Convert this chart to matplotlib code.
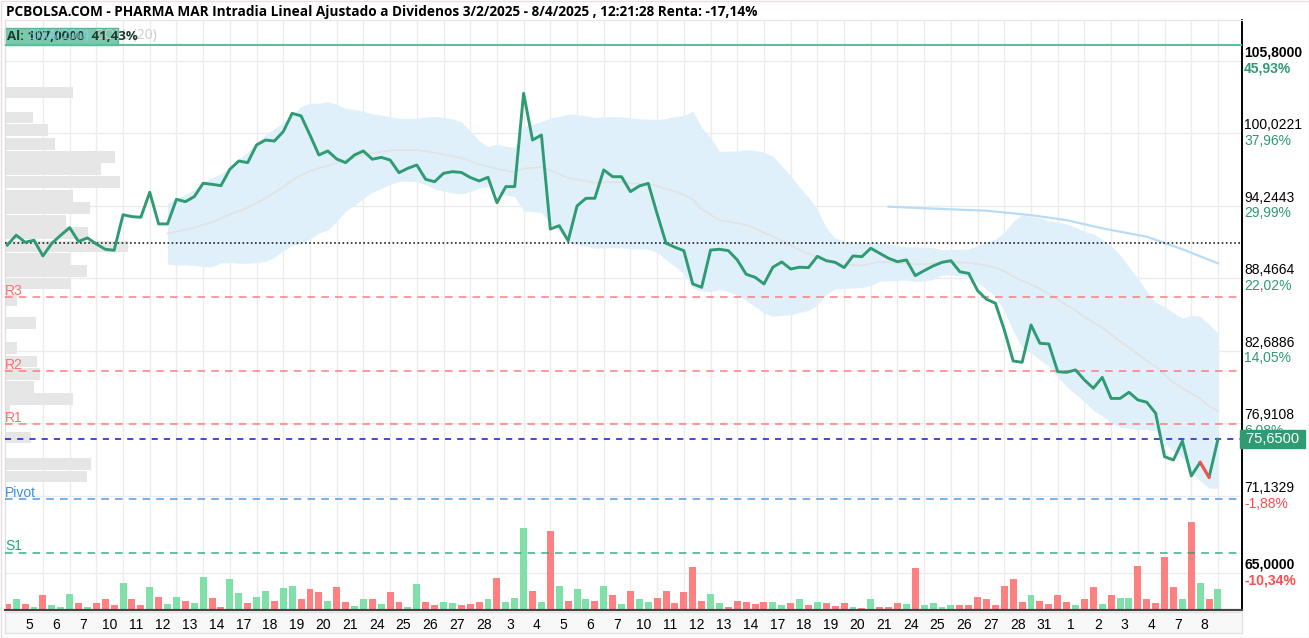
import numpy as np
import pandas as pd
import matplotlib
matplotlib.use("Agg")
import matplotlib.pyplot as plt
from matplotlib.patches import Rectangle

# Precio intradia de PHARMA MAR, tres tomas por sesion (4/2/2025 - 8/4/2025)
precio = [
    91.12, 91.90, 91.34, 91.50, 90.25, 91.25, 91.90, 92.50, 91.40, 91.68,
    91.20, 90.78, 90.70, 93.53, 93.38, 93.33, 95.32, 92.80, 92.80, 94.76,
    94.57, 94.97, 96.04, 95.95, 95.85, 97.15, 97.81, 97.68, 99.09, 99.48,
    99.40, 100.15, 101.61, 101.40, 99.88, 98.29, 98.61, 97.97, 97.68, 98.29,
    98.61, 97.95, 98.10, 97.89, 96.88, 97.23, 97.49, 96.35, 96.16, 96.83,
    96.96, 96.90, 96.50, 96.22, 96.51, 94.49, 95.77, 95.77, 103.20, 99.48,
    99.88, 92.39, 92.66, 91.46, 94.23, 94.84, 94.84, 97.10, 96.56, 96.56,
    95.37, 95.82, 96.03, 93.60, 91.26, 90.94, 90.67, 88.02, 87.75, 90.72,
    90.78, 90.67, 89.93, 88.79, 88.55, 88.02, 89.35, 89.77, 89.21, 89.35,
    89.32, 90.22, 89.87, 89.74, 89.32, 90.25, 90.19, 90.86, 90.46, 90.06,
    89.79, 89.93, 88.68, 89.08, 89.45, 89.74, 89.87, 88.99, 88.86, 87.48,
    86.80, 86.48, 84.35, 81.88, 81.78, 84.75, 83.29, 83.24, 81.03, 80.98,
    81.17, 80.37, 79.71, 80.58, 78.90, 78.90, 79.39, 78.78, 78.60, 77.72,
    74.26, 74.00, 75.51, 72.73, 73.81, 72.62, 75.65,
]

# Volumen relativo de cada toma y si fue al alza (g) o a la baja (r)
volumen = [
    5.7, 10.7, 5.7, 3.3, 14.7, 4.7, 3.3, 15.7, 6.7, 3.3,
    6.7, 10.7, 4.7, 27.0, 10.7, 4.7, 23.3, 13.3, 5.7, 13.3,
    9.3, 6.7, 33.3, 12.0, 3.3, 30.7, 16.7, 6.7, 13.3, 19.3,
    9.3, 22.0, 24.3, 10.7, 20.7, 18.3, 9.3, 23.3, 8.0, 4.3,
    10.7, 10.7, 5.7, 18.3, 8.0, 3.3, 25.7, 8.0, 4.7, 8.0,
    6.7, 4.7, 5.7, 8.0, 10.7, 32.0, 8.0, 12.0, 81.7, 19.3,
    8.0, 79.3, 24.3, 9.3, 20.7, 10.7, 9.3, 24.3, 14.7, 5.7,
    19.3, 10.7, 8.0, 12.0, 19.3, 6.7, 18.3, 43.3, 9.3, 15.7,
    6.7, 3.3, 9.3, 8.0, 5.7, 8.0, 8.0, 4.7, 6.7, 10.7,
    4.7, 8.0, 6.7, 4.3, 6.7, 3.3, 2.0, 10.7, 3.3, 3.3,
    6.7, 5.7, 42.0, 4.7, 6.7, 3.3, 4.7, 4.7, 4.7, 13.3,
    10.7, 4.7, 24.3, 30.7, 8.0, 14.7, 9.3, 5.7, 14.7, 8.0,
    4.7, 10.7, 23.3, 5.7, 14.7, 12.0, 12.0, 44.3, 10.7, 6.7,
    53.3, 23.3, 10.7, 88.3, 27.0, 10.7, 20.7,
]
sentido = ("rgrgrgggrg" "rrrgrrgrgg" "rggrrggrgg" "rggrrrgrrg" "grgrrgg"
           "rrggrrrgrg" "ggrgrgrggr" "grgrggrrrr" "rrggrrrrrg" "grgrgrr"
           "rgrgrrrgrg" "gggrrrrrrr" "rgrrrrgrrg" "rggrrrrrgr" "grg")

# Dias de sesion mostrados en el eje
dias = ["5", "6", "7", "10", "11", "12", "13", "14", "17", "18", "19", "20", "21",
        "24", "25", "26", "27", "28", "3", "4", "5", "6", "7", "10", "11", "12",
        "13", "14", "17", "18", "19", "20", "21", "24", "25", "26", "27", "28",
        "31", "1", "2", "3", "4", "7", "8"]

# Perfil de volumen por nivel de precio
perfil_precio = [103.27, 101.28, 100.28, 99.17, 98.13, 97.17, 96.14, 95.02, 94.07,
                 93.03, 92.08, 91.00, 90.00, 89.04, 88.04, 86.74, 84.91, 82.92,
                 81.83, 80.85, 79.81, 78.85, 77.98, 75.79, 73.68, 72.67]
perfil_vol = [68, 28, 43, 50, 110, 96, 115, 68, 85, 61, 83, 123, 65, 82, 66, 12,
              31, 12, 32, 35, 29, 68, 5, 26, 86, 82]

# SMA(200), solo el tramo visible
sma_idx = [99, 106, 110, 115, 119, 123, 128, 132, 136]
sma_val = [94.17, 93.96, 93.85, 93.50, 93.10, 92.45, 91.78, 90.78, 89.66]

# Niveles del eje derecho y su rentabilidad
niveles = [105.8, 100.0221, 94.2443, 88.4664, 82.6886, 76.9108, 71.1329, 65.0]
niveles_txt = ["105,8000", "100,0221", "94,2443", "88,4664", "82,6886",
               "76,9108", "71,1329", "65,0000"]
niveles_pct = ["45,93%", "37,96%", "29,99%", "22,02%", "14,05%", "6,08%",
               "-1,88%", "-10,34%"]

precio_inicio = 91.28
maximo = 107.05
soportes = {"R3": 86.98, "R2": 81.09, "R1": 76.87, "Pivot": 70.90, "S1": 66.60}
ultimo = 75.65
segmentos_rojos = [134]

W, H = 1309, 638
VERDE = "#2e9b72"

fig = plt.figure(figsize=(W / 100, H / 100), dpi=100)
fig.patch.set_facecolor("white")
rect = [5 / W, 1 - 610 / H, 1237 / W, 590 / H]
axv = fig.add_axes(rect)
axp = axv.twinx()
axp.set_zorder(axv.get_zorder() + 1)
axp.patch.set_visible(False)

n = len(precio)
x = np.arange(n)
xmin, xmax = -0.26, 138.7
ymin, ymax = 62.05, 109.04
axv.set_xlim(xmin, xmax)
axv.set_ylim(0, 590)
axp.set_ylim(ymin, ymax)

# rejilla
for k in range(1, 46):
    axv.axvline(1 + 3 * k, color="#ececec", lw=1, zorder=0)
for lv in niveles:
    axv.axhline((lv - ymin) / (ymax - ymin) * 590, color="#ececec", lw=1, zorder=0)

# volumen
colores_vol = ["#7fe0aa" if s == "g" else "#ff8080" for s in sentido]
axv.bar(x, volumen, width=0.78, color=colores_vol, edgecolor="none", zorder=2)

# perfil de volumen
axp.barh(perfil_precio, [v / 8.9 for v in perfil_vol], left=xmin, height=0.92,
         color="#e6e6e6", edgecolor="none", zorder=1)

# bandas de Bollinger (20)
s = pd.Series(precio)
media = s.rolling(20, min_periods=19).mean()
desv = s.rolling(20, min_periods=19).std(ddof=0)
axp.fill_between(x, media + 2 * desv, media - 2 * desv, color="#dff0fb", lw=0, zorder=2)
axp.plot(x, media, color="#e2e2e2", lw=1.2, zorder=3)
axp.plot(sma_idx, sma_val, color="#b8dcf6", lw=1.6, zorder=3)

# lineas horizontales
axp.axhline(maximo, color="#5cbf9c", lw=1.5, zorder=4)
axp.axhline(precio_inicio, color="#222222", lw=1.2, ls=(0, (1, 1.5)), zorder=4)
estilo = {"R3": "#ff7070", "R2": "#ff7070", "R1": "#ff7070",
          "Pivot": "#3d8fe6", "S1": "#25a677"}
for nombre, nivel in soportes.items():
    axp.axhline(nivel, color=estilo[nombre], lw=1.1, ls=(0, (5, 4)), zorder=4, alpha=0.9)
    axp.text(0.0, nivel - 0.05, nombre, transform=axp.get_yaxis_transform(),
             color=estilo[nombre], fontsize=10, fontfamily="Liberation Sans",
             va="bottom", ha="left", zorder=6)
axp.axhline(ultimo, color="#1515c8", lw=1.1, ls=(0, (4, 4)), zorder=4)

# precio
axp.plot(x, precio, color=VERDE, lw=2.1, zorder=5, solid_joinstyle="round")
for i in segmentos_rojos:
    axp.plot(x[i:i + 2], precio[i:i + 2], color="#ff4d4d", lw=2.1, zorder=5)

# etiquetas del eje derecho
tr = axp.get_yaxis_transform()
for lv, t, p in zip(niveles, niveles_txt, niveles_pct):
    extremo = lv in (niveles[0], niveles[-1])
    axp.text(1.0018, lv + 0.08, t, transform=tr, fontsize=10, va="bottom", ha="left",
             fontfamily="Liberation Sans", fontweight="bold" if extremo else "normal",
             color="black", clip_on=False)
    axp.text(1.0018, lv - 0.05, p, transform=tr, fontsize=10, va="top", ha="left",
             fontfamily="Liberation Sans", fontweight="bold" if extremo else "normal",
             color="#ff4d4d" if p.startswith("-") else VERDE, clip_on=False)
axp.text(1.0, ultimo, " 75,6500 ", transform=tr, fontsize=10.5, va="center", ha="left",
         fontfamily="Liberation Sans", color="white", zorder=10, clip_on=False,
         bbox=dict(boxstyle="square,pad=0.12", fc=VERDE, ec=VERDE))

# eje x
axv.set_xticks([2.5 + 3 * d for d in range(len(dias))])
axv.set_xticklabels(dias, fontsize=10, fontfamily="Liberation Sans")
axv.tick_params(axis="x", length=0, pad=6)
axv.set_yticks([])
axp.set_yticks([])
for a in (axv, axp):
    a.spines["top"].set_visible(False)
    a.spines["left"].set_color("#dddddd")
    a.spines["right"].set_color("black")
    a.spines["right"].set_linewidth(1.2)
    a.spines["bottom"].set_color("#444444")
    a.spines["bottom"].set_linewidth(1.5)

# franja inferior y marco
fig.add_artist(Rectangle((5 / W, 1 - 633 / H), 1237 / W, 21 / H, transform=fig.transFigure,
                         fc="#f8f8f8", ec="#e2e2e2", lw=1, zorder=-1))
fig.add_artist(Rectangle((0.5 / W, 0.5 / H), 1 - 1 / W, 1 - 1 / H, transform=fig.transFigure,
                         fill=False, ec="#e8dede", lw=1))
fig.add_artist(plt.Line2D([5 / W, 1242 / W], [1 - 20 / H, 1 - 20 / H], color="#e6e6e6", lw=1))

# titulo
fig.text(6 / W, 1 - 12 / H,
         "PCBOLSA.COM - PHARMA MAR Intradia Lineal Ajustado a Dividenos 3/2/2025 - 8/4/2025 , 12:21:28 Renta: -17,14%",
         fontsize=9.8, fontweight="bold", fontfamily="Open Sans", va="center", ha="left")

# leyenda
fig.text(95 / W, 1 - 36 / H, "BOLL (20)", fontsize=10, color="#cccccc",
         fontfamily="Open Sans", va="center", ha="left")
fig.add_artist(Rectangle((5 / W, 1 - 45 / H), 113 / W, 17 / H, transform=fig.transFigure,
                         fc="#6cc4a4", ec="#4fb08c", lw=1, alpha=0.9))
fig.text(7 / W, 1 - 36.5 / H, "Al: 107,0000  41,43%", fontsize=9.5, color="#1b3b30",
         fontfamily="Open Sans", fontweight="bold", va="center", ha="left")
fig.text(28 / W, 1 - 36 / H, "SMA(200)", fontsize=10, color="#8ecbf2", alpha=0.8,
         fontfamily="Open Sans", va="center", ha="left")

fig.savefig("out.png", dpi=100)
